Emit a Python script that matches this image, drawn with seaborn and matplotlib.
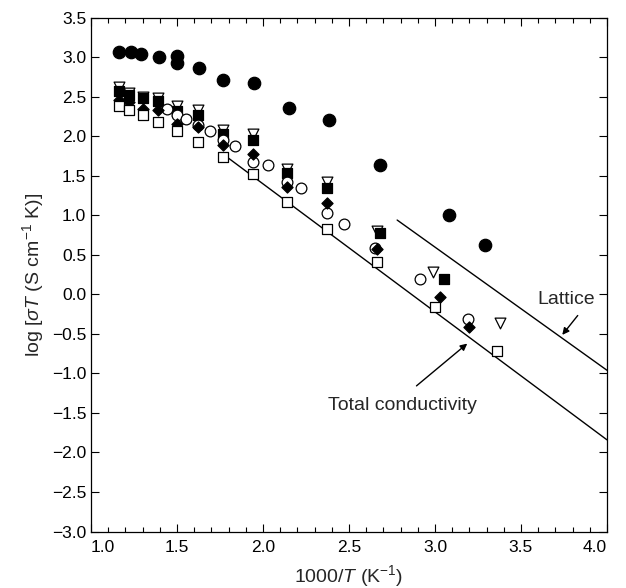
import matplotlib
matplotlib.use("Agg")
import matplotlib.pyplot as plt
import numpy as np
import pandas as pd
import seaborn as sns
from matplotlib.ticker import MultipleLocator

# data
filled_circle_x = [1.16, 1.23, 1.29, 1.395, 1.50, 1.50, 1.63, 1.77, 1.95, 2.15, 2.385, 2.68, 3.08, 3.29]
filled_circle_y = [3.06, 3.07, 3.04, 3.00, 3.01, 2.92, 2.86, 2.71, 2.67, 2.36, 2.21, 1.63, 1.00, 0.62]

tri_x = [1.16, 1.22, 1.30, 1.39, 1.50, 1.62, 1.77, 1.94, 2.14, 2.37, 2.66, 2.99, 3.38]
tri_y = [2.62, 2.55, 2.50, 2.48, 2.38, 2.33, 2.08, 2.03, 1.59, 1.42, 0.80, 0.28, -0.36]

fsq_x = [1.16, 1.22, 1.30, 1.39, 1.50, 1.62, 1.77, 1.94, 2.14, 2.37, 2.68, 3.05]
fsq_y = [2.57, 2.52, 2.48, 2.45, 2.32, 2.27, 2.03, 1.95, 1.53, 1.34, 0.77, 0.19]

open_circle_x = [1.44, 1.50, 1.55, 1.62, 1.69, 1.77, 1.84, 1.94, 2.03, 2.14, 2.22, 2.37, 2.47, 2.65, 2.91, 3.19]
open_circle_y = [2.34, 2.27, 2.22, 2.14, 2.06, 1.95, 1.88, 1.67, 1.63, 1.42, 1.34, 1.03, 0.89, 0.59, 0.20, -0.31]

diamond_x = [1.16, 1.22, 1.30, 1.39, 1.50, 1.62, 1.77, 1.94, 2.14, 2.37, 2.66, 3.03, 3.20]
diamond_y = [2.46, 2.43, 2.35, 2.33, 2.16, 2.12, 1.89, 1.77, 1.36, 1.15, 0.58, -0.03, -0.41]

osq_x = [1.16, 1.22, 1.30, 1.39, 1.50, 1.62, 1.77, 1.94, 2.14, 2.37, 2.66, 3.00, 3.36]
osq_y = [2.38, 2.33, 2.27, 2.18, 2.07, 1.93, 1.74, 1.52, 1.17, 0.83, 0.41, -0.16, -0.72]

total_line_x = [1.77, 4.0]
total_line_y = [1.77, -1.84]
lattice_line_x = [2.78, 4.0]
lattice_line_y = [0.94, -0.96]

x_ticks = [1.0, 1.5, 2.0, 2.5, 3.0, 3.5, 4.0]
y_ticks = [-3.0, -2.5, -2.0, -1.5, -1.0, -0.5, 0.0, 0.5, 1.0, 1.5, 2.0, 2.5, 3.0, 3.5]

sns.set_style("ticks")
plt.rcParams["font.family"] = ["Liberation Sans", "DejaVu Sans"]
plt.rcParams["mathtext.fontset"] = "custom"
plt.rcParams["mathtext.rm"] = "Liberation Sans"
plt.rcParams["mathtext.it"] = "Liberation Sans:italic"
plt.rcParams["font.size"] = 12

fig = plt.figure(figsize=(6.26, 5.88), dpi=100)
ax = fig.add_axes([0.1454, 0.096, 0.8242, 0.874])

# fitted lines
sns.lineplot(x=total_line_x, y=total_line_y, ax=ax, color="black", linewidth=1.0)
sns.lineplot(x=lattice_line_x, y=lattice_line_y, ax=ax, color="black", linewidth=1.0)

series = [
    (tri_x, tri_y, "v", "white", 60),
    (fsq_x, fsq_y, "s", "black", 45),
    (open_circle_x, open_circle_y, "o", "white", 60),
    (diamond_x, diamond_y, "D", "black", 32),
    (osq_x, osq_y, "s", "white", 45),
    (filled_circle_x, filled_circle_y, "o", "black", 80),
]
for xs, ys, mk, fc, size in series:
    df = pd.DataFrame({"x": xs, "y": ys})
    sns.scatterplot(data=df, x="x", y="y", ax=ax, marker=mk, s=size,
                    facecolor=fc, edgecolor="black", linewidth=0.9, zorder=3)

ax.set_xlim(1.0, 4.0)
ax.set_ylim(-3.0, 3.5)
ax.set_xticks(x_ticks, [f"{v:.1f}" for v in x_ticks])
ax.set_yticks(y_ticks, [f"{v:.1f}".replace("-", "\u2212") for v in y_ticks])
ax.xaxis.set_minor_locator(MultipleLocator(0.1))
ax.tick_params(which="both", direction="in", top=True, right=True, labelsize=12.5, width=0.8, colors="black")
ax.tick_params(which="major", length=6)
ax.tick_params(which="minor", length=3.5)
ax.tick_params(axis="x", pad=6)
for sp in ax.spines.values():
    sp.set_linewidth(0.9)
    sp.set_color("black")

# end labels sit inside the axis span, as in the original
xlabels = ax.get_xticklabels()
xlabels[0].set_horizontalalignment("left")
xlabels[-1].set_horizontalalignment("right")

ax.set_xlabel(r"1000/$T$ (K$^{-1}$)", fontsize=14, labelpad=6)
ax.set_ylabel(r"log [$\sigma T$ (S cm$^{-1}$ K)]", fontsize=14, labelpad=4)

ax.text(3.76, -0.06, "Lattice", ha="center", va="center", fontsize=14)
ax.annotate("", xy=(3.73, -0.54), xytext=(3.84, -0.24),
            arrowprops=dict(arrowstyle="-|>", color="black", lw=1.0, mutation_scale=10))
ax.text(2.81, -1.40, "Total conductivity", ha="center", va="center", fontsize=14)
ax.annotate("", xy=(3.20, -0.60), xytext=(2.88, -1.18),
            arrowprops=dict(arrowstyle="-|>", color="black", lw=1.0, mutation_scale=10))

fig.savefig("out.png", dpi=100)
